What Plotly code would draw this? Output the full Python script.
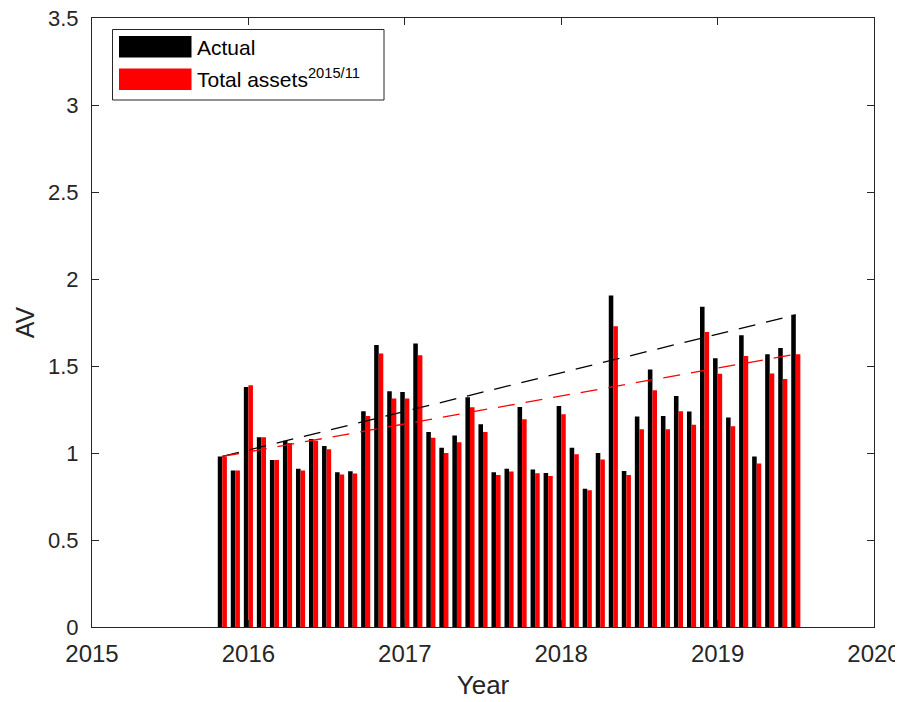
import plotly.graph_objects as go

# Monthly periods (year/month)
months = ["2015/11", "2015/12",
          "2016/01", "2016/02", "2016/03", "2016/04", "2016/05", "2016/06",
          "2016/07", "2016/08", "2016/09", "2016/10", "2016/11", "2016/12",
          "2017/01", "2017/02", "2017/03", "2017/04", "2017/05", "2017/06",
          "2017/07", "2017/08", "2017/09", "2017/10", "2017/11", "2017/12",
          "2018/01", "2018/02", "2018/03", "2018/04", "2018/05", "2018/06",
          "2018/07", "2018/08", "2018/09", "2018/10", "2018/11", "2018/12",
          "2019/01", "2019/02", "2019/03", "2019/04", "2019/05", "2019/06",
          "2019/07"]

actual = [0.98, 0.90,
          1.38, 1.09, 0.96, 1.07, 0.91, 1.08,
          1.04, 0.89, 0.895, 1.24, 1.62, 1.355,
          1.35, 1.63, 1.12, 1.03, 1.10, 1.32,
          1.165, 0.89, 0.91, 1.265, 0.905, 0.885,
          1.27, 1.03, 0.795, 1.00, 1.905, 0.897,
          1.21, 1.48, 1.212, 1.328, 1.238, 1.84,
          1.545, 1.204, 1.677, 0.98, 1.568, 1.604,
          1.794]

total_assets = [0.98, 0.90,
                1.39, 1.09, 0.96, 1.058, 0.90, 1.07,
                1.022, 0.876, 0.882, 1.212, 1.572, 1.313,
                1.313, 1.562, 1.087, 1.00, 1.062, 1.263,
                1.12, 0.874, 0.894, 1.194, 0.884, 0.868,
                1.223, 0.993, 0.786, 0.963, 1.729, 0.874,
                1.137, 1.361, 1.137, 1.24, 1.162, 1.696,
                1.455, 1.154, 1.557, 0.94, 1.457, 1.426,
                1.568]

x_ticks = [2015, 2016, 2017, 2018, 2019, 2020]
y_ticks = [0, 0.5, 1, 1.5, 2, 2.5, 3, 3.5]
y_ticktext = ["0", "0.5", "1", "1.5", "2", "2.5", "3", "3.5"]

x = [int(m.split("/")[0]) + (int(m.split("/")[1]) - 1) / 12 for m in months]

FONT = "Liberation Sans, Arial, Helvetica, sans-serif"
AX = "#262626"

fig = go.Figure()
fig.add_trace(go.Bar(x=x, y=actual, name="Actual", marker=dict(color="black", line=dict(width=0)),
                     showlegend=False))
fig.add_trace(go.Bar(x=x, y=total_assets, name="Total assets", marker=dict(color="#ff0000", line=dict(width=0)),
                     showlegend=False))
# trend lines from first to last value
fig.add_trace(go.Scatter(x=[x[0], x[-1]], y=[actual[0], actual[-1]], mode="lines",
                         line=dict(color="black", width=1.3, dash="17px,11px"), showlegend=False))
fig.add_trace(go.Scatter(x=[x[0], x[-1]], y=[total_assets[0], total_assets[-1]], mode="lines",
                         line=dict(color="#ff0000", width=1.3, dash="17px,11px"), showlegend=False))

# page body has an 8px margin; figure coordinates are offset by it
OFF = 8
W, H = 903 - OFF, 702 - OFF
L, T = 92 - OFF, 18 - OFF
R = W - (874 - OFF)
B = H - (627 - OFF)
pw, ph = W - L - R, H - T - B

def px(xp):
    return (xp - OFF - L) / pw

def py(yp):
    return 1 - (yp - OFF - T) / ph

shapes = [
    dict(type="rect", xref="paper", yref="paper", x0=px(112.5), x1=px(384), y0=py(100), y1=py(29.5),
         line=dict(color=AX, width=1), fillcolor="white", layer="above"),
    dict(type="rect", xref="paper", yref="paper", x0=px(119), x1=px(191.5), y0=py(57.5), y1=py(36),
         line=dict(width=0), fillcolor="black", layer="above"),
    dict(type="rect", xref="paper", yref="paper", x0=px(119), x1=px(191.5), y0=py(90), y1=py(68.5),
         line=dict(width=0), fillcolor="#ff0000", layer="above"),
]
annotations = [
    dict(xref="paper", yref="paper", x=px(195), y=py(47), xanchor="left", yanchor="middle",
         text="Actual", showarrow=False, font=dict(family=FONT, size=21, color="black")),
    dict(xref="paper", yref="paper", x=px(195), y=py(78), xanchor="left", yanchor="middle",
         text="Total assets<sup>2015/11</sup>", showarrow=False,
         font=dict(family=FONT, size=21, color="black")),
]

fig.update_layout(
    width=W, height=H,
    margin=dict(l=L, r=R, t=T, b=B, pad=0),
    paper_bgcolor="white", plot_bgcolor="white",
    barmode="group", bargap=0.3, bargroupgap=0,
    font=dict(family=FONT, size=21, color=AX),
    shapes=shapes, annotations=annotations,
    xaxis=dict(range=[2015, 2020], tickvals=x_ticks, ticktext=[str(v) for v in x_ticks],
               automargin=False, ticklabeloverflow="allow",
               showgrid=False, zeroline=False, showline=True, linecolor=AX, linewidth=1,
               mirror="ticks", ticks="inside", ticklen=7, tickcolor=AX,
               ticklabelstandoff=5,
               title=dict(text="Year", font=dict(size=26), standoff=10),
               tickfont=dict(size=24)),
    yaxis=dict(range=[0, 3.5], tickvals=y_ticks, ticktext=y_ticktext,
               automargin=False, ticklabeloverflow="allow",
               showgrid=False, zeroline=False, showline=True, linecolor=AX, linewidth=1,
               mirror="ticks", ticks="inside", ticklen=7, tickcolor=AX,
               ticklabelstandoff=8,
               title=dict(text="AV", font=dict(size=25), standoff=6),
               tickfont=dict(size=22)),
)

fig.write_html("out.html")
